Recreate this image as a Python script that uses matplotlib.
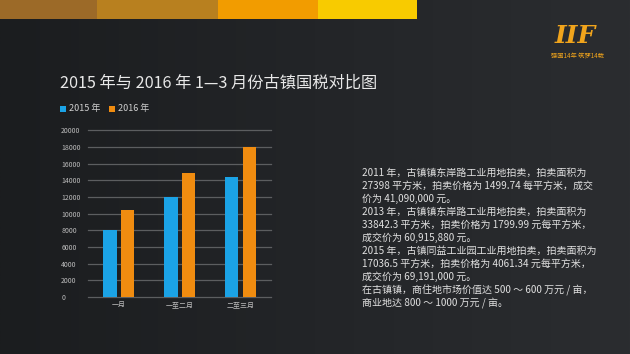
import numpy as np
import matplotlib
matplotlib.use('Agg')
import matplotlib.pyplot as plt

plt.rcParams['font.family'] = ['Noto Sans CJK SC', 'DejaVu Sans']

# 数据
months = ['一月', '一至二月', '二至三月']
tax_2015 = [8000, 12000, 14400]
tax_2016 = [10400, 14900, 18000]
y_ticks = [0, 2000, 4000, 6000, 8000, 10000, 12000, 14000, 16000, 18000, 20000]
series_names = ['2015 年', '2016 年']

title = '2015 年与 2016 年 1—3 月份古镇国税对比图'
notes = [
    '2011 年，古镇镇东岸路工业用地拍卖，拍卖面积为',
    '27398 平方米，拍卖价格为 1499.74 每平方米，成交',
    '价为 41,090,000 元。',
    '2013 年，古镇镇东岸路工业用地拍卖，拍卖面积为',
    '33842.3 平方米，拍卖价格为 1799.99 元每平方米，',
    '成交价为 60,915,880 元。',
    '2015 年，古镇同益工业园工业用地拍卖，拍卖面积为',
    '17036.5 平方米，拍卖价格为 4061.34 元每平方米，',
    '成交价为 69,191,000 元。',
    '在古镇镇，商住地市场价值达 500 ～ 600 万元 / 亩，',
    '商业地达 800 ～ 1000 万元 / 亩。',
]
strip_colors = ['#9c6a28', '#b8801f', '#f29c00', '#f8cb00']
strip_edges = [0, 97, 218, 318, 417]

W, H = 630, 354
fig = plt.figure(figsize=(W / 100, H / 100), dpi=100)

# 背景渐变
bg = fig.add_axes([0, 0, 1, 1])
bg.set_xlim(0, W)
bg.set_ylim(H, 0)
bg.axis('off')
grad = np.linspace(0, 1, 256)[None, :]
bg.imshow(grad, extent=[0, W, H, 0], aspect='auto',
          cmap=matplotlib.colors.LinearSegmentedColormap.from_list('bg', ['#1b1d1f', '#232528', '#2b2d30']))
# 顶部色条
for i, c in enumerate(strip_colors):
    bg.add_patch(plt.Rectangle((strip_edges[i], 0), strip_edges[i + 1] - strip_edges[i], 19,
                               color=c, lw=0))

# logo（简化）
bg.text(575, 36, 'IIF', color='#f0a41c', fontsize=18, fontweight='bold', style='italic',
        ha='center', va='center', family='DejaVu Serif')
bg.text(577, 56, '强国14年 筑梦14载', color='#f0a41c', fontsize=4.5, ha='center', va='center')

# 标题和图例
bg.text(60, 83, title, color='#e8e8e8', fontsize=11.7, ha='left', va='center')
bg.add_patch(plt.Rectangle((60, 106), 6, 6, color='#1ba3e6', lw=0))
bg.text(69, 109, series_names[0], color='#d0d0d0', fontsize=6.5, ha='left', va='center')
bg.add_patch(plt.Rectangle((109, 106), 6, 6, color='#f08c10', lw=0))
bg.text(118, 109, series_names[1], color='#d0d0d0', fontsize=6.5, ha='left', va='center')

# 右侧文字
for i, line in enumerate(notes):
    bg.text(362, 173 + i * 13, line, color='#e0e0e0', fontsize=7.2, ha='left', va='center')

# 柱状图
ax = fig.add_axes([88.3 / W, 1 - 297 / H, (271 - 88.3) / W, (297 - 130.3) / H])
ax.patch.set_alpha(0)
x = np.arange(len(months))
bw = 0.22
ax.bar(x - 0.145, tax_2015, width=bw, color='#1ba3e6', zorder=3)
ax.bar(x + 0.145, tax_2016, width=bw, color='#f08c10', zorder=3)
ax.set_xlim(-0.5, 2.5)
ax.set_ylim(0, 20000)
ax.set_yticks(y_ticks)
ax.set_xticks(x)
ax.set_xticklabels(months)
for s in ax.spines.values():
    s.set_visible(False)
ax.grid(axis='y', color='#5c5e60', lw=0.9, zorder=0)
ax.tick_params(axis='y', length=0, pad=19.5, labelsize=5, labelcolor='#bdbdbd')
ax.tick_params(axis='x', length=0, pad=3, labelsize=5, labelcolor='#bdbdbd')
for lbl in ax.get_yticklabels():
    lbl.set_horizontalalignment('left')
for gl in ax.get_ygridlines():
    gl.set_clip_on(False)

fig.savefig('out.png', dpi=100)
